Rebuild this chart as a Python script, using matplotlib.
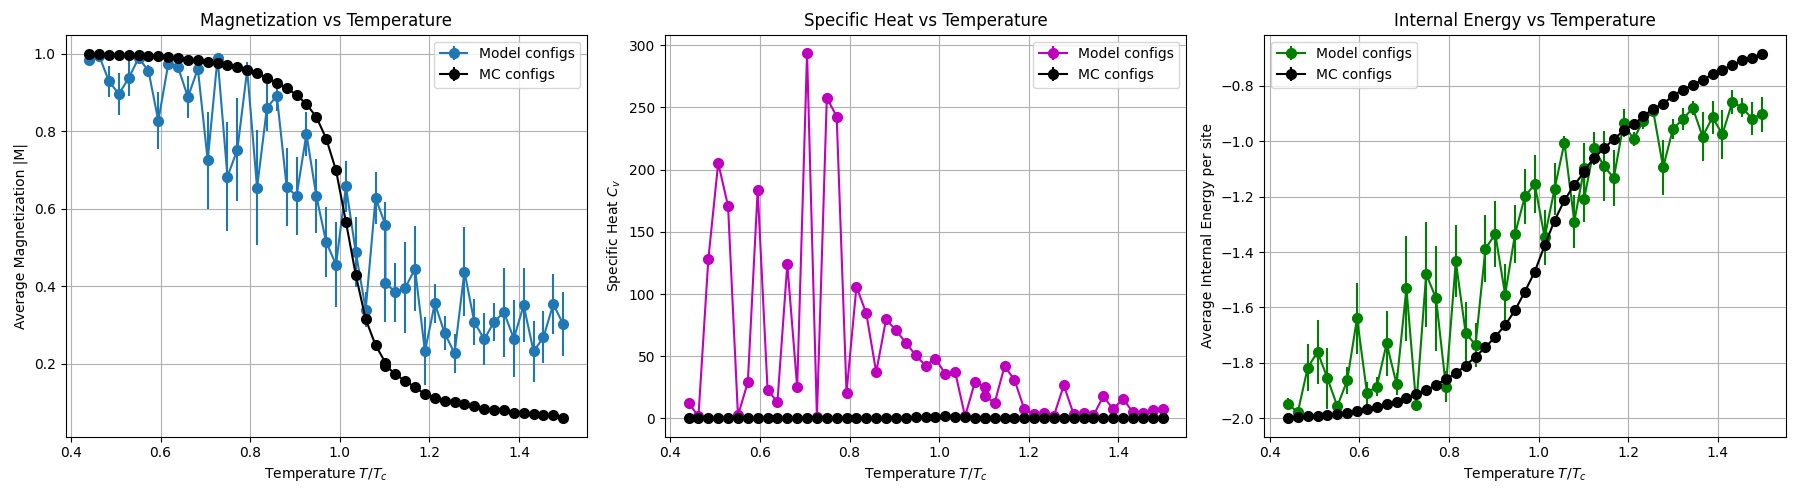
import matplotlib
matplotlib.use("Agg")
import matplotlib.pyplot as plt
import numpy as np

# Reduced temperature T/Tc
temps = [0.4407, 0.4627, 0.4848, 0.5068, 0.5288, 0.5509, 0.5729, 0.5949, 0.6170, 0.6390,
         0.6610, 0.6831, 0.7051, 0.7271, 0.7492, 0.7712, 0.7932, 0.8153, 0.8373, 0.8594,
         0.8814, 0.9034, 0.9254, 0.9475, 0.9695, 0.9915, 1.0136, 1.0356, 1.0577, 1.0797,
         1.1017, 1.1017, 1.1238, 1.1458, 1.1678, 1.1899, 1.2119, 1.2339, 1.2560, 1.2780,
         1.3000, 1.3221, 1.3441, 1.3661, 1.3882, 1.4102, 1.4323, 1.4543, 1.4763, 1.4984]

# Magnetization
mag_model = [0.985, 0.995, 0.929, 0.896, 0.937, 0.989, 0.956, 0.827, 0.973, 0.965,
             0.888, 0.961, 0.725, 0.989, 0.683, 0.752, 0.958, 0.654, 0.861, 0.891,
             0.656, 0.633, 0.793, 0.633, 0.514, 0.456, 0.658, 0.488, 0.340, 0.628,
             0.558, 0.409, 0.384, 0.396, 0.445, 0.232, 0.356, 0.279, 0.227, 0.438,
             0.308, 0.263, 0.308, 0.333, 0.265, 0.351, 0.232, 0.268, 0.354, 0.302]
mag_model_err = [0.008, 0.005, 0.040, 0.054, 0.047, 0.010, 0.015, 0.073, 0.008, 0.008,
                 0.054, 0.008, 0.125, 0.008, 0.140, 0.133, 0.020, 0.148, 0.060, 0.040,
                 0.100, 0.100, 0.056, 0.095, 0.090, 0.110, 0.066, 0.090, 0.045, 0.068,
                 0.060, 0.100, 0.076, 0.117, 0.110, 0.088, 0.050, 0.043, 0.050, 0.116,
                 0.060, 0.067, 0.048, 0.115, 0.100, 0.095, 0.078, 0.067, 0.077, 0.083]
mag_mc = [1.000, 0.999, 0.998, 0.997, 0.996, 0.996, 0.995, 0.993, 0.991, 0.988,
          0.985, 0.983, 0.979, 0.975, 0.971, 0.965, 0.958, 0.950, 0.938, 0.925,
          0.911, 0.894, 0.870, 0.837, 0.781, 0.699, 0.566, 0.429, 0.315, 0.248,
          0.203, 0.195, 0.174, 0.155, 0.140, 0.121, 0.112, 0.104, 0.101, 0.096,
          0.091, 0.083, 0.082, 0.082, 0.074, 0.074, 0.071, 0.068, 0.067, 0.061]
mag_mc_err = [0.002] * 50

# Specific heat
cv_model = [12.6, 1.6, 128.0, 205.4, 170.7, 2.4, 29.0, 183.6, 22.8, 13.2,
            124.0, 25.0, 293.8, 1.0, 257.8, 242.7, 20.7, 105.9, 84.4, 37.1,
            79.6, 71.0, 60.8, 50.8, 42.5, 48.1, 35.8, 37.4, 1.6, 29.3,
            25.5, 18.0, 12.6, 41.9, 31.2, 7.5, 3.2, 4.0, 2.2, 26.6,
            3.5, 4.6, 2.4, 17.7, 7.5, 15.9, 4.8, 4.0, 7.0, 7.8]
cv_mc = [0.0, 0.0, 0.0, 0.0, 0.0, 0.0, 0.0, 0.0, 0.0, 0.0,
         0.0, 0.0, 0.0, 0.1, 0.1, 0.1, 0.2, 0.2, 0.3, 0.3,
         0.4, 0.5, 0.6, 0.8, 1.0, 1.4, 1.6, 1.3, 0.9, 0.6,
         0.4, 0.4, 0.3, 0.3, 0.2, 0.2, 0.2, 0.1, 0.1, 0.1,
         0.1, 0.1, 0.1, 0.1, 0.1, 0.0, 0.0, 0.0, 0.0, 0.0]
cv_err = [0.0] * 50

# Internal energy
en_model = [-1.949, -1.979, -1.818, -1.760, -1.856, -1.957, -1.864, -1.639, -1.908, -1.886,
            -1.730, -1.877, -1.531, -1.953, -1.480, -1.567, -1.886, -1.434, -1.692, -1.736,
            -1.388, -1.335, -1.554, -1.335, -1.199, -1.155, -1.347, -1.173, -1.005, -1.290,
            -1.098, -1.208, -1.025, -1.089, -1.133, -0.935, -0.993, -0.925, -0.892, -1.094,
            -0.955, -0.920, -0.880, -0.983, -0.913, -0.975, -0.859, -0.878, -0.918, -0.902]
en_model_err = [0.020, 0.010, 0.085, 0.115, 0.110, 0.020, 0.050, 0.128, 0.040, 0.035,
                0.117, 0.040, 0.190, 0.005, 0.190, 0.190, 0.055, 0.130, 0.110, 0.080,
                0.120, 0.120, 0.110, 0.105, 0.100, 0.105, 0.100, 0.095, 0.025, 0.097,
                0.090, 0.085, 0.060, 0.125, 0.100, 0.050, 0.025, 0.030, 0.020, 0.100,
                0.035, 0.040, 0.025, 0.090, 0.060, 0.088, 0.043, 0.036, 0.059, 0.063]
en_mc = [-1.999, -1.997, -1.993, -1.991, -1.987, -1.984, -1.980, -1.975, -1.968, -1.961,
         -1.949, -1.941, -1.929, -1.912, -1.900, -1.880, -1.859, -1.838, -1.810, -1.778,
         -1.744, -1.706, -1.664, -1.610, -1.543, -1.471, -1.376, -1.287, -1.213, -1.157,
         -1.112, -1.106, -1.061, -1.025, -0.993, -0.961, -0.939, -0.910, -0.882, -0.865,
         -0.835, -0.814, -0.796, -0.778, -0.758, -0.741, -0.725, -0.708, -0.700, -0.683]
en_mc_err = [0.002] * 50

fig, axes = plt.subplots(1, 3, figsize=(18, 4.92), dpi=100)
fig.subplots_adjust(left=0.0364, right=0.992, top=0.9295, bottom=0.1124, wspace=0.1496)

panels = [
    (axes[0], mag_model, mag_model_err, mag_mc, mag_mc_err, '#1f77b4',
     "Magnetization vs Temperature", "Average Magnetization |M|", 'upper right'),
    (axes[1], cv_model, cv_err, cv_mc, cv_err, 'm',
     "Specific Heat vs Temperature", "Specific Heat $C_v$", 'upper right'),
    (axes[2], en_model, en_model_err, en_mc, en_mc_err, 'g',
     "Internal Energy vs Temperature", "Average Internal Energy per site", 'upper left'),
]

for ax, ym, em, yc, ec, col, title, ylabel, loc in panels:
    ax.errorbar(temps, ym, yerr=em, fmt='-o', color=col, markersize=7,
                linewidth=1.5, elinewidth=1.5, label='Model configs')
    ax.errorbar(temps, yc, yerr=ec, fmt='-o', color='k', markersize=7,
                linewidth=1.5, elinewidth=1.5, label='MC configs')
    ax.set_title(title, fontsize=12)
    ax.set_xlabel("Temperature $T/T_c$")
    ax.set_ylabel(ylabel)
    ax.grid(True)
    ax.legend(loc=loc)

fig.savefig("out.png", dpi=100)
